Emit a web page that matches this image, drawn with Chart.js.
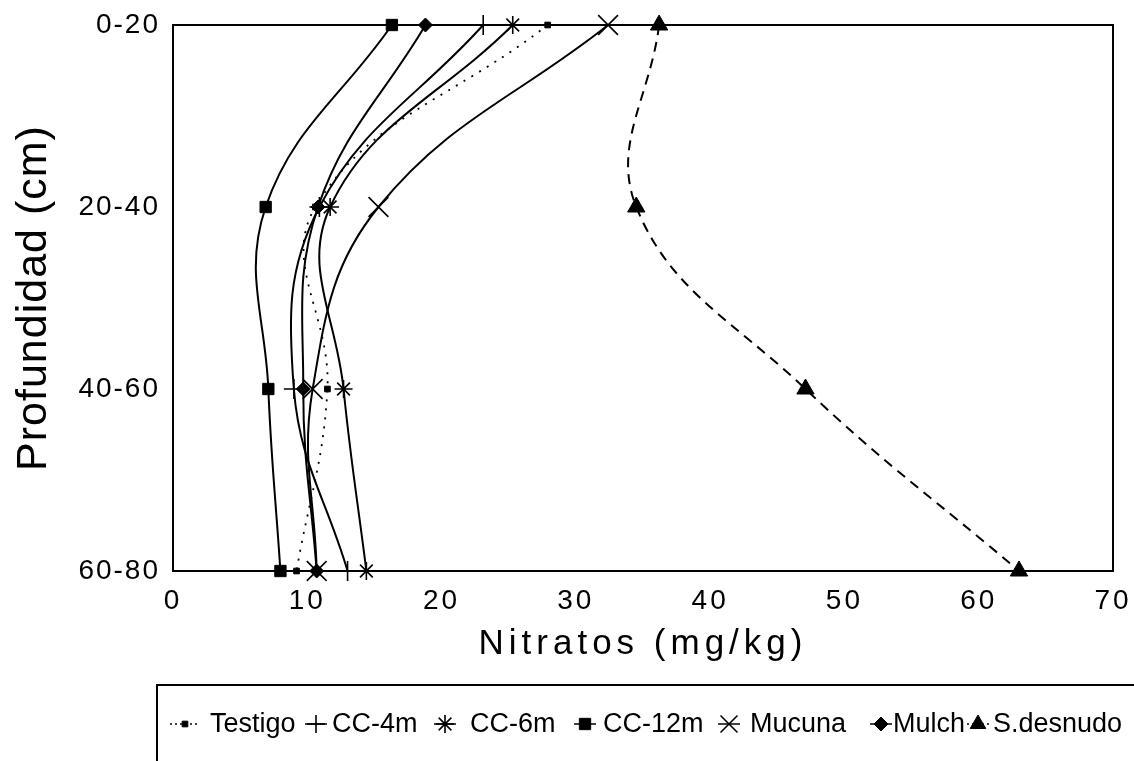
<!DOCTYPE html>
<html>
<head>
<meta charset="utf-8">
<script src="https://cdn.jsdelivr.net/npm/chart.js@4.4.1/dist/chart.umd.min.js"></script>
<style>
  html, body { margin: 0; padding: 0; background: #fff; }
</style>
</head>
<body>
<canvas id="chart" width="1134" height="761"></canvas>
<script>
// depth classes (y axis) and nitrate values in mg/kg (x axis)
const depths = ['0-20', '20-40', '40-60', '60-80'];
const xTicks = [0, 10, 20, 30, 40, 50, 60, 70];

const testigo   = [27.9, 10.6, 11.5, 9.2];
const cc4m      = [23.1, 10.9, 9.0, 13.0];
const cc6m      = [25.3, 11.7, 12.7, 14.4];
const cc12m     = [16.3, 6.9, 7.1, 8.0];
const mucuna    = [32.4, 15.3, 10.4, 10.7];
const mulch     = [18.8, 10.8, 9.7, 10.7];
const sDesnudo  = [36.2, 34.5, 47.1, 63.0];

const FONT = "'Liberation Sans', Arial, Helvetica, sans-serif";

// scales with a bit of letter spacing, the original text is widely tracked
function spacedScale(Base, id, tickGap, titleGap) {
    return class extends Base {
        static id = id;
        drawLabels(area) {
            const ctx = this.ctx;
            ctx.save();
            ctx.letterSpacing = tickGap;
            super.drawLabels(area);
            ctx.restore();
        }
        drawTitle() {
            const ctx = this.ctx;
            ctx.save();
            ctx.letterSpacing = titleGap;
            super.drawTitle();
            ctx.restore();
        }
    };
}
const SpacedLinear = spacedScale(Chart.LinearScale, 'spacedLinear', '3px', '5px');
const SpacedCategory = spacedScale(Chart.CategoryScale, 'spacedCategory', '2px', '1px');
Chart.register(SpacedLinear, SpacedCategory);

function series(label, data, style, radius, filled, dash) {
    return {
        label: label,
        data: data,
        borderColor: '#000',
        backgroundColor: filled ? '#000' : 'rgba(0,0,0,0)',
        borderWidth: dash && dash[0] <= 2 ? 1.8 : 2,
        borderDash: dash || [],
        pointStyle: style,
        pointRadius: radius,
        pointBorderWidth: filled ? 1 : 1.6,
        pointBorderColor: '#000',
        pointBackgroundColor: '#000',
        tension: 0.4,
        clip: false
    };
}

const datasets = [
    series('Testigo', testigo, 'rect', 4, true, [2, 7]),
    series('CC-4m', cc4m, 'cross', 10, false),
    series('CC-6m', cc6m, 'star', 9, false),
    series('CC-12m', cc12m, 'rect', 8, true),
    series('Mucuna', mucuna, 'crossRot', 14, false),
    series('Mulch', mulch, 'rectRot', 7, true),
    series('S.desnudo', sDesnudo, 'triangle', 10, true, [10, 7])
];

// black frame around the plot area
const frame = {
    id: 'frame',
    beforeDatasetsDraw(chart) {
        const {ctx, chartArea: a} = chart;
        ctx.save();
        ctx.strokeStyle = '#000';
        ctx.lineWidth = 2;
        ctx.strokeRect(a.left, a.top, a.right - a.left, a.bottom - a.top);
        ctx.restore();
    }
};

// boxed legend under the chart, cut off at the right like the original
const legendSymX = [185, 316, 445, 585, 729, 881, 978];
const legendTextX = [210, 332, 470, 603, 750, 893, 993];
const boxLegend = {
    id: 'boxLegend',
    afterDraw(chart) {
        const ctx = chart.ctx;
        const yMid = 724;
        ctx.save();
        ctx.strokeStyle = '#000';
        ctx.lineWidth = 2;
        ctx.strokeRect(157, 685, 1100, 200);
        chart.data.datasets.forEach((ds, i) => {
            const cx = legendSymX[i];
            const half = i === 0 ? 15 : 11;
            ctx.save();
            ctx.lineWidth = 1.5;
            ctx.setLineDash(ds.borderDash.length ? [2, 3] : []);
            ctx.beginPath();
            ctx.moveTo(cx - half, yMid);
            ctx.lineTo(cx + half, yMid);
            ctx.stroke();
            ctx.restore();
            ctx.fillStyle = '#000';
            ctx.strokeStyle = '#000';
            ctx.lineWidth = ds.pointBorderWidth;
            Chart.helpers.drawPoint(ctx, {
                pointStyle: ds.pointStyle,
                radius: Math.min(ds.pointRadius, ds.pointStyle === 'crossRot' ? 12 : 9),
                rotation: 0,
                borderWidth: ds.pointBorderWidth
            }, cx, yMid);
            ctx.font = '27px ' + FONT;
            ctx.textBaseline = 'middle';
            ctx.textAlign = 'left';
            ctx.fillText(ds.label, legendTextX[i], yMid + 1);
        });
        ctx.restore();
    }
};

new Chart(document.getElementById('chart'), {
    type: 'line',
    data: { labels: depths, datasets: datasets },
    plugins: [frame, boxLegend],
    options: {
        indexAxis: 'y',
        responsive: false,
        animation: false,
        layout: { padding: { left: 0, right: 21, top: 25, bottom: 90 } },
        plugins: {
            legend: { display: false },
            tooltip: { enabled: false }
        },
        scales: {
            x: {
                type: 'spacedLinear',
                position: 'bottom',
                min: 0,
                max: 70,
                afterBuildTicks: s => { s.ticks = xTicks.map(v => ({ value: v })); },
                afterFit: s => { s.height = 100; s.paddingLeft = 0; s.paddingRight = 0; },
                grid: { display: false, drawTicks: false },
                border: { display: false },
                ticks: {
                    color: '#000',
                    padding: 13,
                    maxRotation: 0,
                    font: { family: FONT, size: 28 }
                },
                title: {
                    display: true,
                    text: 'Nitratos (mg/kg)',
                    color: '#000',
                    font: { family: FONT, size: 35 },
                    padding: { top: 0, bottom: 6 }
                }
            },
            y: {
                type: 'spacedCategory',
                position: 'left',
                afterFit: s => { s.width = 173; s.paddingTop = 0; s.paddingBottom = 0; },
                grid: { display: false, drawTicks: false },
                border: { display: false },
                ticks: {
                    color: '#000',
                    padding: 13,
                    font: { family: FONT, size: 28 }
                },
                title: {
                    display: true,
                    text: 'Profundidad (cm)',
                    color: '#000',
                    font: { family: FONT, size: 43 },
                    padding: { top: 8, bottom: 0 }
                }
            }
        }
    }
});
</script>
</body>
</html>
